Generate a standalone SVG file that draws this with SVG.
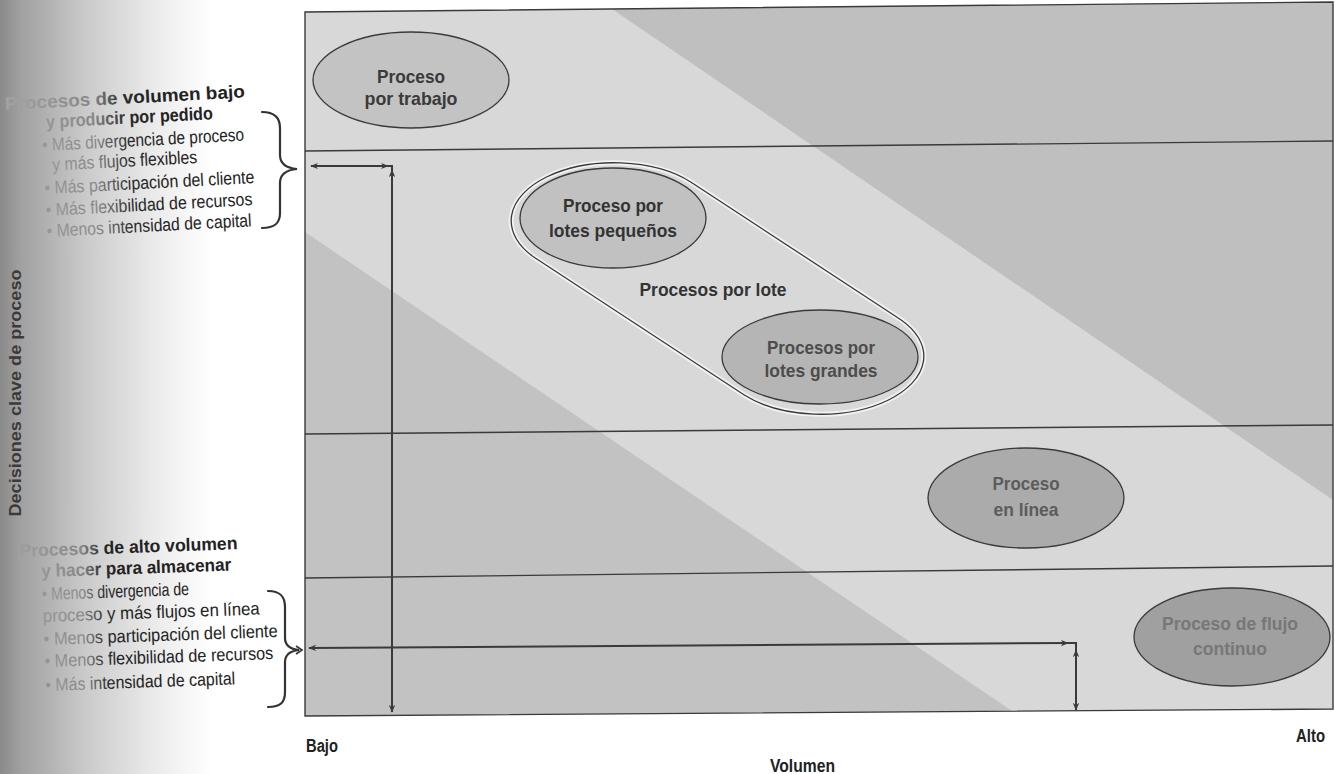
<svg xmlns="http://www.w3.org/2000/svg" width="1335" height="774" viewBox="0 0 1335 774">
  <defs>
    <linearGradient id="gutter" x1="0" y1="0" x2="1" y2="0">
      <stop offset="0" stop-color="#8a8a8a"/>
      <stop offset="0.08" stop-color="#a0a0a0"/>
      <stop offset="0.35" stop-color="#cbcbcb"/>
      <stop offset="0.62" stop-color="#ebebeb"/>
      <stop offset="0.85" stop-color="#ffffff"/>
      <stop offset="1" stop-color="#ffffff"/>
    </linearGradient>
    <linearGradient id="inkTop" gradientUnits="userSpaceOnUse" x1="0" y1="0" x2="160" y2="0">
      <stop offset="0" stop-color="#a6a6a6"/>
      <stop offset="0.6" stop-color="#878787"/>
      <stop offset="0.8" stop-color="#2a2a2a"/>
      <stop offset="1" stop-color="#222222"/>
    </linearGradient>
    <linearGradient id="inkBottom" gradientUnits="userSpaceOnUse" x1="0" y1="0" x2="120" y2="0">
      <stop offset="0" stop-color="#a6a6a6"/>
      <stop offset="0.7" stop-color="#878787"/>
      <stop offset="0.88" stop-color="#2a2a2a"/>
      <stop offset="1" stop-color="#222222"/>
    </linearGradient>
    <marker id="head" viewBox="0 0 10 10" refX="9" refY="5" markerWidth="8" markerHeight="8" orient="auto-start-reverse" markerUnits="userSpaceOnUse">
      <path d="M0,1 L10,5 L0,9 L3,5 Z" fill="#3a3a3a"/>
    </marker>
  </defs>
  <style>
    .t { font-family: "Liberation Sans Narrow", "Liberation Sans", Arial, sans-serif; }
    .b { font-weight: bold; }
    .side { font-size: 18px; }
    .node { font-size: 19px; font-weight: bold; text-anchor: middle; }
    .axis { font-size: 18px; font-weight: bold; fill: #222; }
    .rule { stroke: #3a3a3a; stroke-width: 1.4; fill: none; }
    .oval { stroke: #3a3a3a; stroke-width: 1.3; }
    .arrow { stroke: #3a3a3a; stroke-width: 2; fill: none; }
    .brace { stroke: #333; stroke-width: 2.2; fill: none; stroke-linecap: round; }
  </style>

  <!-- page background with the shaded binding edge -->
  <rect x="0" y="0" width="1335" height="774" fill="#ffffff"/>
  <rect x="0" y="0" width="250" height="774" fill="url(#gutter)"/>

  <!-- chart field -->
  <g id="field">
    <polygon points="305,12 1333,2 1333,709 305,716" fill="#d8d8d8"/>
    <polygon points="612,9 1333,2 1333,500" fill="#bfbfbf"/>
    <polygon points="305,232 305,716 1012,711" fill="#c2c2c2"/>
    <polygon class="rule" points="305,12 1333,2 1333,709 305,716"/>
    <line class="rule" x1="305" y1="151" x2="1333" y2="141"/>
    <line class="rule" x1="305" y1="434" x2="1333" y2="425"/>
    <line class="rule" x1="305" y1="578" x2="1333" y2="566"/>
  </g>

  <!-- batch grouping outline -->
  <g id="lotes-group">
    <path d="M691.1,182.2 L900.1,319.2 A103,58 0 0 1 743.9,394.8 L534.9,257.8 A103,58 0 0 1 691.1,182.2 Z" fill="none" stroke="#f2f2f2" stroke-width="5"/>
    <path d="M691.1,182.2 L900.1,319.2 A103,58 0 0 1 743.9,394.8 L534.9,257.8 A103,58 0 0 1 691.1,182.2 Z" fill="none" stroke="#3a3a3a" stroke-width="1.3"/>
    <text class="t node" x="713" y="296" fill="#333" textLength="147" lengthAdjust="spacingAndGlyphs">Procesos por lote</text>
  </g>

  <g id="trabajo">
    <ellipse class="oval" cx="411" cy="80" rx="98" ry="48" fill="#c3c3c3"/>
    <text class="t node" x="411" y="83" fill="#3a3a3a" textLength="68" lengthAdjust="spacingAndGlyphs">Proceso</text>
    <text class="t node" x="411" y="105" fill="#3a3a3a" textLength="93" lengthAdjust="spacingAndGlyphs">por trabajo</text>
  </g>

  <g id="lotes-pequenos">
    <ellipse class="oval" cx="613" cy="218" rx="93" ry="50" fill="#c1c1c1"/>
    <text class="t node" x="613" y="212" fill="#333" textLength="100" lengthAdjust="spacingAndGlyphs">Proceso por</text>
    <text class="t node" x="613" y="237" fill="#333" textLength="128" lengthAdjust="spacingAndGlyphs">lotes pequeños</text>
  </g>

  <g id="lotes-grandes">
    <ellipse class="oval" cx="820" cy="357" rx="98" ry="47" fill="#b5b5b5"/>
    <text class="t node" x="821" y="354" fill="#4c4c4c" textLength="108" lengthAdjust="spacingAndGlyphs">Procesos por</text>
    <text class="t node" x="821" y="377" fill="#4c4c4c" textLength="113" lengthAdjust="spacingAndGlyphs">lotes grandes</text>
  </g>

  <g id="en-linea">
    <ellipse class="oval" cx="1026" cy="498" rx="98" ry="50" fill="#ababab"/>
    <text class="t node" x="1026" y="490" fill="#5c5c5c" textLength="67" lengthAdjust="spacingAndGlyphs">Proceso</text>
    <text class="t node" x="1026" y="516" fill="#5c5c5c" textLength="65" lengthAdjust="spacingAndGlyphs">en línea</text>
  </g>

  <g id="flujo-continuo">
    <ellipse class="oval" cx="1232" cy="637" rx="98" ry="49" fill="#a0a0a0"/>
    <text class="t node" x="1230" y="630" fill="#777" textLength="136" lengthAdjust="spacingAndGlyphs">Proceso de flujo</text>
    <text class="t node" x="1230" y="655" fill="#777" textLength="74" lengthAdjust="spacingAndGlyphs">continuo</text>
  </g>

  <!-- range indicators -->
  <g id="connectors">
    <line class="arrow" x1="311" y1="166" x2="388" y2="166" marker-start="url(#head)" marker-end="url(#head)"/>
    <path class="arrow" d="M386,166 H392 V174" stroke-width="1.4"/>
    <line class="arrow" x1="392" y1="170" x2="392" y2="712" marker-start="url(#head)" marker-end="url(#head)"/>
    <line class="arrow" x1="309" y1="648" x2="1068" y2="643" stroke-width="2.4" marker-start="url(#head)" marker-end="url(#head)"/>
    <path class="arrow" d="M1066,643 H1076 V652" stroke-width="1.4"/>
    <line class="arrow" x1="1076" y1="650" x2="1076" y2="710" stroke-width="1.6" marker-start="url(#head)" marker-end="url(#head)"/>
  </g>

  <!-- low-volume characteristics -->
  <g id="bajo-volumen" class="t side" transform="rotate(-3 45 160)">
    <text class="b" x="8" y="108" fill="url(#inkTop)" textLength="240" lengthAdjust="spacingAndGlyphs">Procesos de volumen bajo</text>
    <text class="b" x="48" y="128" fill="url(#inkTop)" textLength="167" lengthAdjust="spacingAndGlyphs">y producir por pedido</text>
    <text x="43" y="151" fill="url(#inkTop)" textLength="202" lengthAdjust="spacingAndGlyphs">• Más divergencia de proceso</text>
    <text x="52" y="171" fill="url(#inkTop)" textLength="145" lengthAdjust="spacingAndGlyphs">y más flujos flexibles</text>
    <text x="43" y="194" fill="url(#inkTop)" textLength="210" lengthAdjust="spacingAndGlyphs">• Más participación del cliente</text>
    <text x="43" y="216" fill="url(#inkTop)" textLength="207" lengthAdjust="spacingAndGlyphs">• Más flexibilidad de recursos</text>
    <text x="43" y="237" fill="url(#inkTop)" textLength="205" lengthAdjust="spacingAndGlyphs">• Menos intensidad de capital</text>
  </g>
  <path class="brace" d="M262,112 C275,112 280,118 280,128 L280,155 C280,163 286,168 297,169 C286,170 280,175 280,183 L280,213 C280,223 275,228 262,228"/>

  <!-- high-volume characteristics -->
  <g id="alto-volumen" class="t side" transform="rotate(-2 45 620)">
    <text class="b" x="22" y="556" fill="url(#inkBottom)" textLength="218" lengthAdjust="spacingAndGlyphs">Procesos de alto volumen</text>
    <text class="b" x="43" y="577" fill="url(#inkBottom)" textLength="190" lengthAdjust="spacingAndGlyphs">y hacer para almacenar</text>
    <text x="43" y="600" fill="url(#inkBottom)" textLength="147" lengthAdjust="spacingAndGlyphs">• Menos divergencia de</text>
    <text x="43" y="622" fill="url(#inkBottom)" textLength="217" lengthAdjust="spacingAndGlyphs">proceso y más flujos en línea</text>
    <text x="43" y="645" fill="url(#inkBottom)" textLength="234" lengthAdjust="spacingAndGlyphs">• Menos participación del cliente</text>
    <text x="43" y="667" fill="url(#inkBottom)" textLength="229" lengthAdjust="spacingAndGlyphs">• Menos flexibilidad de recursos</text>
    <text x="43" y="691" fill="url(#inkBottom)" textLength="190" lengthAdjust="spacingAndGlyphs">• Más intensidad de capital</text>
  </g>
  <path class="brace" d="M268,591 C281,591 285,597 285,607 L285,638 C285,645 290,649 299,650 C290,651 285,655 285,662 L285,692 C285,702 281,707 268,707"/>
  <path d="M296,646 L302,650 L296,654" fill="none" stroke="#333" stroke-width="1.6"/>

  <!-- axes -->
  <text class="t b" x="15" y="393" transform="rotate(-90 15 393)" text-anchor="middle" dominant-baseline="central" font-size="17" fill="#3a3a3a" textLength="247" lengthAdjust="spacingAndGlyphs">Decisiones clave de proceso</text>
  <text class="t axis" x="306" y="752" textLength="32" lengthAdjust="spacingAndGlyphs">Bajo</text>
  <text class="t axis" x="1296" y="742" textLength="29" lengthAdjust="spacingAndGlyphs">Alto</text>
  <text class="t axis" x="770" y="772" textLength="65" lengthAdjust="spacingAndGlyphs">Volumen</text>
</svg>
